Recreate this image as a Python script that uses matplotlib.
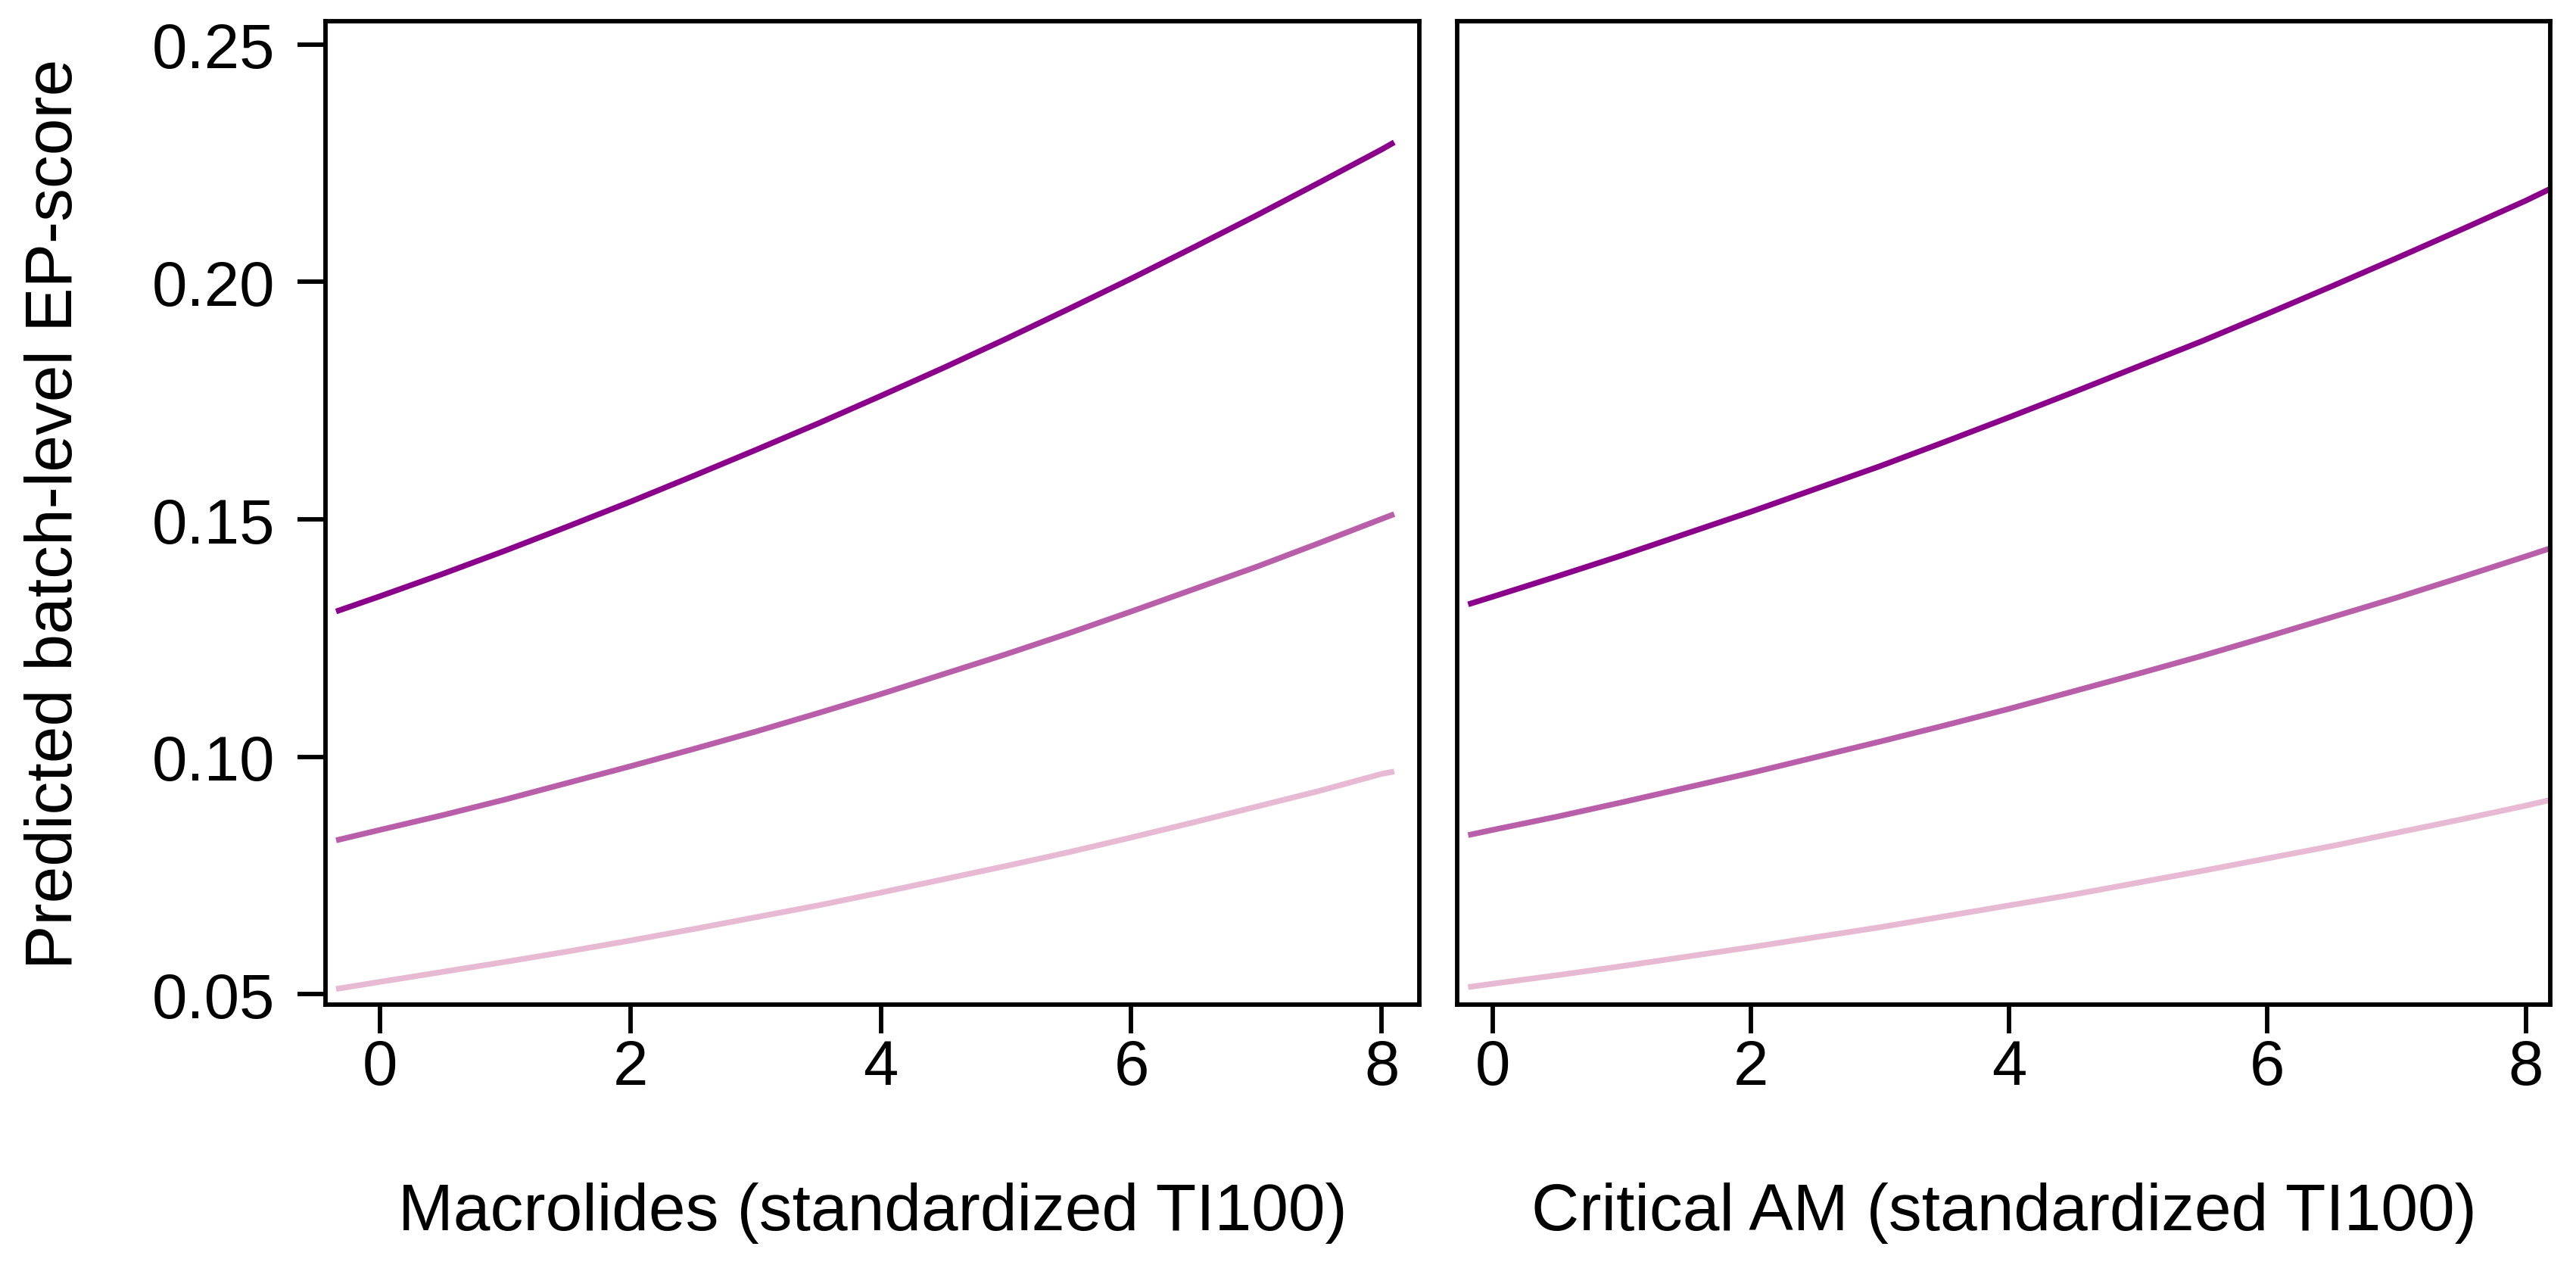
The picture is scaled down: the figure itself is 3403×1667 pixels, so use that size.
import numpy as np
import matplotlib
matplotlib.use("Agg")
import matplotlib.pyplot as plt

plt.rcParams['font.family'] = ['Liberation Sans', 'DejaVu Sans']

# values, three curves per panel (dark -> light)
x_macro = [-0.35, 0, 0.5, 1, 1.5, 2, 2.5, 3, 3.5, 4, 4.5, 5, 5.5, 6, 6.5, 7, 7.5, 8, 8.1]
macro_high = [0.1306, 0.1338, 0.1385, 0.1434, 0.1485, 0.1537, 0.1591, 0.1646, 0.1702, 0.1760,
              0.1819, 0.1880, 0.1943, 0.2007, 0.2073, 0.2140, 0.2209, 0.2279, 0.2294]
macro_mid = [0.0824, 0.0846, 0.0877, 0.0910, 0.0945, 0.0980, 0.1016, 0.1053, 0.1092, 0.1132,
             0.1174, 0.1216, 0.1260, 0.1306, 0.1353, 0.1400, 0.1450, 0.1501, 0.1511]
macro_low = [0.0511, 0.0526, 0.0547, 0.0568, 0.0590, 0.0613, 0.0637, 0.0662, 0.0687, 0.0714,
             0.0742, 0.0770, 0.0799, 0.0830, 0.0862, 0.0895, 0.0928, 0.0964, 0.0969]

x_crit = [-0.19, 0, 0.5, 1, 1.5, 2, 2.5, 3, 3.5, 4, 4.5, 5, 5.5, 6, 6.5, 7, 7.5, 8, 8.19]
crit_high = [0.1321, 0.1337, 0.1380, 0.1424, 0.1470, 0.1516, 0.1564, 0.1612, 0.1663, 0.1715,
             0.1768, 0.1822, 0.1876, 0.1933, 0.1991, 0.2050, 0.2110, 0.2171, 0.2196]
crit_mid = [0.0835, 0.0846, 0.0874, 0.0904, 0.0935, 0.0966, 0.0999, 0.1032, 0.1066, 0.1101,
            0.1138, 0.1175, 0.1213, 0.1253, 0.1294, 0.1335, 0.1378, 0.1422, 0.1439]
crit_low = [0.0515, 0.0522, 0.0540, 0.0559, 0.0579, 0.0599, 0.0620, 0.0641, 0.0664, 0.0687,
            0.0710, 0.0735, 0.0760, 0.0786, 0.0812, 0.0840, 0.0868, 0.0897, 0.0909]

colors = ['#8B008B', '#B95FA9', '#E7B9D3']
xlabels = ['Macrolides (standardized TI100)', 'Critical AM (standardized TI100)']
ylabel = 'Predicted batch-level EP-score'
yticks = [0.05, 0.10, 0.15, 0.20, 0.25]
xticks = [0, 2, 4, 6, 8]

fig = plt.figure(figsize=(3404 / 300, 1668 / 300), dpi=300)
ax1 = fig.add_axes([0.1263, 0.2038, 0.4245, 0.7788])
ax2 = fig.add_axes([0.5655, 0.2038, 0.4242, 0.7788])

panels = [
    (ax1, x_macro, [macro_high, macro_mid, macro_low], (-0.435, 8.30)),
    (ax2, x_crit, [crit_high, crit_mid, crit_low], (-0.275, 8.19)),
]

for i, (ax, xs, series, xl) in enumerate(panels):
    for ys, c in zip(series, colors):
        ax.plot(xs, ys, color=c, lw=1.8, solid_capstyle='butt')
    ax.set_xlim(*xl)
    ax.set_ylim(0.0478, 0.2549)
    ax.set_xticks(xticks)
    ax.set_yticks(yticks)
    ax.tick_params(length=9, width=1.4, labelsize=20)
    ax.tick_params(axis='x', pad=1.5)
    ax.tick_params(axis='y', pad=7)
    for s in ax.spines.values():
        s.set_linewidth(1.4)
    ax.set_xlabel(xlabels[i], fontsize=21, labelpad=27)
    if i == 0:
        ax.set_yticklabels(['%.2f' % v for v in yticks])
        ax.set_ylabel(ylabel, fontsize=21, labelpad=21)
    else:
        ax.tick_params(axis='y', left=False, labelleft=False)

fig.savefig('out.png', dpi=300)
